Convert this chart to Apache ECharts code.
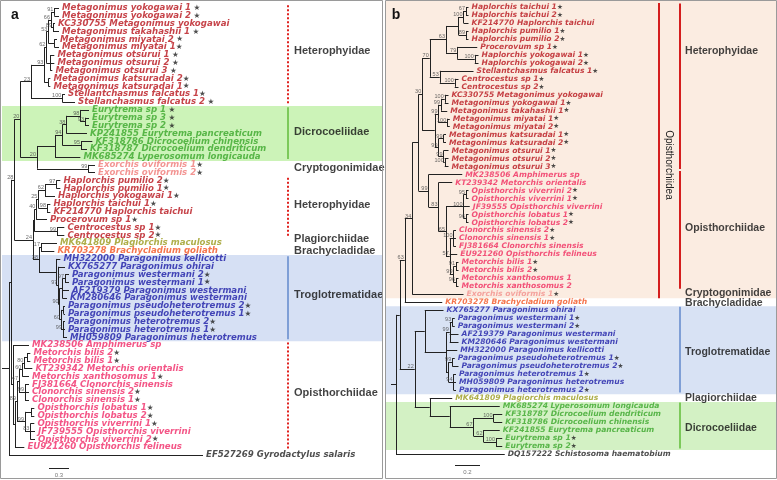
<!DOCTYPE html>
<html>
<head>
<meta charset="utf-8">
<script src="https://cdn.jsdelivr.net/npm/echarts@6/dist/echarts.min.js"></script>
<style>
html,body{margin:0;padding:0;background:#ffffff;}
#chart{width:777px;height:480px;}
</style>
</head>
<body>
<div id="chart"></div>
<script>
// ================= DATA =================
// ---- Panel a ----
const taxaA = [
'Metagonimus yokogawai 1 ★','Metagonimus yokogawai 2 ★','KC330755 Metagonimus yokogawai','Metagonimus takahashii 1 ★',
'Metagonimus miyatai 2 ★','Metagonimus miyatai 1★','Metagonimus otsurui 1 ★','Metagonimus otsurui 2 ★','Metagonimus otsurui 3 ★',
'Metagonimus katsuradai 2★','Metagonimus katsuradai 1★','Stellantchasmus falcatus 1★','Stellanchasmus falcatus 2 ★',
'Eurytrema sp 1 ★','Eurytrema sp 3 ★','Eurytrema sp 2 ★','KP241855 Eurytrema pancreaticum','KF318786 Dicrocoelium chinensis',
'KF318787 Dicrocoelium dendriticum','MK685274 Lyperosomum longicauda',
'Exorchis oviformis 1★','Exorchis oviformis 2★',
'Haplorchis pumilio 2★','Haplorchis pumilio 1★','Haplorchis yokogawai 1★','Haplorchis taichui 1★','KF214770 Haplorchis taichui',
'Procerovum sp 1★','Centrocestus sp 1★','Centrocestus sp 2★',
'MK641809 Plagiorchis maculosus','KR703278 Brachycladium goliath',
'MH322000 Paragonimus kellicotti','KX765277 Paragonimus ohirai','Paragonimus westermani 2★','Paragonimus westermani 1★',
'AF219379 Paragonimus westermani','KM280646 Paragonimus westermani','Paragonimus pseudoheterotremus 2★','Paragonimus pseudoheterotremus 1★',
'Paragonimus heterotremus 2★','Paragonimus heterotremus 1★','MH059809 Paragonimus heterotremus',
'MK238506 Amphimerus sp','Metorchis bilis 2★','Metorchis bilis 1★','KT239342 Metorchis orientalis','Metorchis xanthosomus 1★',
'FJ381664 Clonorchis sinensis','Clonorchis sinensis 2★','Clonorchis sinensis 1★','Opisthorchis lobatus 1★','Opisthorchis lobatus 2★',
'Opisthorchis viverrini 1★','JF739555 Opisthorchis viverrini','Opisthorchis viverrini 2★','EU921260 Opisthorchis felineus',
'EF527269 Gyrodactylus salaris'];
const groupA = 'HHHHHHHHHHHHH' + 'DDDDDDD' + 'CC' + 'HHHHHHHH' + 'P' + 'B' + 'TTTTTTTTTTT' + 'OOOOOOOOOOOOOO' + 'X';
// tip heights from root (substitutions / site)
const tipsA = [
0.75,0.75,0.69,0.75,0.72,0.75,0.68,0.68,0.65,0.62,0.62,0.84,0.99,
1.20,1.20,1.20,1.17,1.25,1.17,1.07,
1.29,1.29,
0.77,0.77,0.69,0.62,0.62,0.57,0.83,0.83,
0.72,0.68,
0.77,0.84,0.90,0.90,0.90,0.87,0.84,0.84,0.84,0.84,0.87,
0.30,0.32,0.32,0.35,0.30,0.30,0.30,0.30,0.38,0.38,0.38,0.39,0.39,0.23,
2.91];
// internal nodes: [height, bootstrap, ...children]; integers = taxon index
const treeA = [0, '',
  [0.03, '',
    [0.08, '28',
      [0.17, '20',
        [0.33, '23',
          [0.53, '93',
            [0.56, '62',
              [0.59, '53',
                [0.63, '66', [0.68, '91', 0, 1], [0.66, '89', 2, 3]],
                [0.68, '', 4, 5]],
              [0.62, '', 6, 7, 8]],
            [0.59, '', 9, 10]],
          [0.80, '100', 11, 12]],
        [0.42, '20',
          [0.69, '',
            [0.80, '94',
              [0.86, '38', [1.07, '98', 13, [1.14, '93', 14, 15]], 16],
              [1.08, '95', 17, 18]],
            19],
          [1.19, '99', 20, 21]]],
      [0.36, '24',
        [0.38, '',
          [0.41, '40', [0.44, '25', [0.54, '62', [0.71, '97', 22, 23], 24], [0.57, '98', 25, 26]], 27],
          [0.72, '99', 28, 29]],
        [0.45, '38',
          [0.48, '17', 30, 31],
          [0.71, '', 32,
            [0.74, '97', 33,
              [0.76, '90',
                [0.80, '', [0.84, '97', 34, 35], 36, 37],
                [0.78, '60', [0.82, '', 38, 39], [0.81, '99', 40, 41, 42]]]]]]]],
    [0.06, '', 43,
      [0.09, '',
        [0.12, '89',
          [0.15, '47',
            [0.20, '60', [0.23, '80', [0.27, '', 44, 45], 46], 47],
            [0.24, '99', 48, 49, 50]],
          [0.24, '99', [0.33, '', 51, 52], [0.32, '83', 53, 54, 55]]],
        56]]],
  57];
const familiesA = ['Heterophyidae','Dicrocoeliidae','Cryptogonimidae','Heterophyidae','Plagiorchiidae','Brachycladidae','Troglotrematidae','Opisthorchiidae'];
const familyRowsA = [[0,12],[13,19],[20,21],[22,29],[30,30],[31,31],[32,42],[43,56]];
const scaleA = 0.3;

// ---- Panel b ----
const taxaB = [
'Haplorchis taichui 1★','Haplorchis taichui 2★','KF214770 Haplorchis taichui','Haplorchis pumilio 1★','Haplorchis pumilio 2★',
'Procerovum sp 1★','Haplorchis yokogawai 1★','Haplorchis yokogawai 2★','Stellantchasmus falcatus 1★','Centrocestus sp 1★',
'Centrocestus sp 2★','KC330755 Metagonimus yokogawai','Metagonimus yokogawai 1★','Metagonimus takahashii 1★','Metagonimus miyatai 1★',
'Metagonimus miyatai 2★','Metagonimus katsuradai 1★','Metagonimus katsuradai 2★','Metagonimus otsurui 1★','Metagonimus otsurui 2★',
'Metagonimus otsurui 3★',
'MK238506 Amphimerus sp','KT239342 Metorchis orientalis','Opisthorchis viverrini 2★','Opisthorchis viverrini 1★','JF39555 Opisthorchis viverrini',
'Opisthorchis lobatus 1★','Opisthorchis lobatus 2★','Clonorchis sinensis 2★','Clonorchis sinensis 1★','FJ381664 Clonorchis sinensis',
'EU921260 Opisthorchis felineus','Metorchis bilis 1★','Metorchis bilis 2★','Metorchis xanthosomus 1','Metorchis xanthosomus 2',
'Exorchis oviformis 1★','KR703278 Brachycladium goliath',
'KX765277 Paragonimus ohirai','Paragonimus westermani 1★','Paragonimus westermani 2★','AF219379 Paragonimus westermani',
'KM280646 Paragonimus westermani','MH322000 Paragonimus kellicotti','Paragonimus pseudoheterotremus 1★','Paragonimus pseudoheterotremus 2★',
'Paragonimus heterotremus 1★','MH059809 Paragonimus heterotremus','Paragonimus heterotremus 2★',
'MK641809 Plagiorchis maculosus','MK685274 Lyperosomum longicauda','KF318787 Dicrocoelium dendriticum','KF318786 Dicrocoelium chinensis',
'KF241855 Eurytrema pancreaticum','Eurytrema sp 1★','Eurytrema sp 2★','DQ157222 Schistosoma haematobium'];
const groupB = 'HHHHHHHHHHHHHHHHHHHHH' + 'OOOOOOOOOOOOOOO' + 'C' + 'B' + 'TTTTTTTTTTT' + 'P' + 'DDDDDD' + 'X';
const tipsB = [
0.58,0.58,0.58,0.58,0.58,0.65,0.66,0.66,0.62,0.50,0.50,0.42,0.42,0.41,0.43,0.43,0.40,0.40,0.42,0.42,0.42,
0.53,0.45,0.58,0.58,0.59,0.58,0.58,0.48,0.48,0.48,0.49,0.50,0.50,0.50,0.50,
0.54,0.37,
0.38,0.47,0.47,0.50,0.50,0.49,0.47,0.50,0.48,0.48,0.48,
0.45,0.83,0.85,0.85,0.83,0.85,0.85,0.87];
const treeB = [0, '',
  [0.03, '',
    [0.07, '63',
      [0.13, '34',
        [0.18, '',
          [0.21, '30',
            [0.27, '70',
              [0.40, '63',
                [0.50, '', [0.54, '100', [0.56, '67', 0, 1], 2], [0.56, '89', 3, 4]],
                [0.49, '79', 5, [0.63, '100', 6, 7]]],
              [0.35, '53', 8, [0.47, '100', 9, 10]]],
            [0.31, '',
              [0.34, '99', [0.36, '99', [0.39, '100', 11, 12], 13], [0.41, '100', 14, 15]],
              [0.34, '99', [0.38, '99', 16, 17], [0.38, '99', 18, [0.39, '100', 19, 20]]]]],
          [0.26, '99', 21,
            [0.34, '83', 22,
              [0.40, '65',
                [0.54, '100', [0.56, '95', 23, 24], 25, [0.56, '96', 26, 27]],
                [0.43, '57', [0.46, '100', 28, 29, 30], 31, [0.46, '99', [0.48, '91', 32, 33], [0.48, '96', 34, 35]]]]]]],
        36],
      37],
    [0.15, '22',
      [0.23, '', 38, [0.40, '', [0.43, '99', [0.45, '93', 39, 40], 41, 42], 43, [0.42, '', [0.45, '99', 44, 45], [0.46, '94', 46, 47, 48]]]],
      [0.27, '', 49, [0.43, '', 50, [0.62, '67', [0.78, '100', 51, 52], [0.70, '62', 53, [0.80, '100', 54, 55]]]]]]],
  56];
const familiesB = ['Heterophyidae','Opisthorchiidae','Cryptogonimidae','Brachycladidae','Troglotrematidae','Plagiorchiidae','Dicrocoeliidae'];
const familyRowsB = [[0,20],[21,35],[36,36],[37,37],[38,48],[49,49],[50,55]];
const superfamilyB = 'Opisthorchiidea';
const superRowsB = [0, 36];
const scaleB = 0.2;

// ================= LAYOUT / STYLE =================
const FONT = '"Liberation Sans", Arial, sans-serif';
const TAXFONT = '"DejaVu Sans", sans-serif';
const GA = {left: 9, top: 8, width: 373, height: 447, xmax: 5.595, ymax: 57};
const GB = {left: 396, top: 7, width: 380, height: 447, xmax: 3.04, ymax: 56};
const hx = (G, px) => (px - G.left) * G.xmax / G.width;
const ry = (G, py) => (py - G.top) * G.ymax / G.height;

const colA = {H:'#b8141c', D:'#3aa62a', C:'#f07a78', P:'#9a9a1c', B:'#f2521f', T:'#1c1ca6', O:'#f02a68', X:'#222222'};
const colB = {H:'#b8141c', D:'#3aa62a', C:'#f3908c', P:'#9a9a1c', B:'#f2521f', T:'#1c1ca6', O:'#f02a5e', X:'#222222'};

function makeRich(col, size) {
  const r = {};
  Object.keys(col).forEach(k => {
    r[k] = {color: col[k], fontSize: size, fontWeight: 'bold', fontStyle: 'italic', fontFamily: TAXFONT};
  });
  r.s = {color: '#222', fontSize: size - 1, fontFamily: TAXFONT};
  return r;
}
function fmtTaxon(name, grp) {
  const star = /★$/.test(name);
  const base = name.replace(/\s*★$/, '');
  const gap = /\s★$/.test(name) ? ' ' : '';
  return '{' + grp + '|' + base + '}' + (star ? '{s|' + gap + '★}' : '');
}

function buildTree(tree, tips, stubStart) {
  const segs = [], boots = [];
  function walk(n) {
    if (typeof n === 'number') return {h: tips[n], y: n};
    const h = n[0], sup = n[1];
    const kids = n.slice(2).map(walk);
    const y = (kids[0].y + kids[kids.length - 1].y) / 2;
    kids.forEach(k => segs.push([[h, k.y], [k.h, k.y]]));
    segs.push([[h, kids[0].y], [h, kids[kids.length - 1].y]]);
    if (sup) boots.push([h, y, sup]);
    return {h, y};
  }
  const r = walk(tree);
  segs.push([[stubStart, r.y], [r.h, r.y]]);
  return {segs, boots};
}
const ta = buildTree(treeA, tipsA, hx(GA, 2));
const tb = buildTree(treeB, tipsB, hx(GB, 391));

// scale bars
const sbA = {x0: hx(GA, 49), row: ry(GA, 468), lrow: ry(GA, 475)};
const sbB = {x0: hx(GB, 455), row: ry(GB, 465), lrow: ry(GB, 472)};
ta.segs.push([[sbA.x0, sbA.row], [sbA.x0 + scaleA, sbA.row]]);
tb.segs.push([[sbB.x0, sbB.row], [sbB.x0 + scaleB, sbB.row]]);

// family markers
const RED = '#e0221f', GREEN = '#7cc95a', BLUE = '#7f9fd6';
const famStyleA = ['dot','green',null,'dot',null,null,'blue','dot'];
const famLabelRowA = [5.5, 15.8, 20.4, 25.1, 29.5, 31.0, 36.6, 49.1];
const famStyleB = ['red','red',null,null,'blue',null,'green'];
const famLabelRowB = [5.5, 27.7, 35.8, 37.1, 43.2, 49.0, 52.7];
function lineStyleFor(s) {
  if (s === 'dot') return {color: RED, width: 2, type: [2, 2]};
  if (s === 'red') return {color: '#d41e1e', width: 2, type: 'solid'};
  if (s === 'green') return {color: GREEN, width: 2, type: 'solid'};
  return {color: BLUE, width: 2, type: 'solid'};
}
const famLinesA = [], famLinesB = [];
familyRowsA.forEach((r, i) => {
  if (!famStyleA[i]) return;
  const x = hx(GA, 288);
  famLinesA.push({coords: [[x, r[0] - 0.35], [x, r[1] + 0.25]], lineStyle: lineStyleFor(famStyleA[i])});
});
familyRowsB.forEach((r, i) => {
  if (!famStyleB[i]) return;
  const x = hx(GB, 680);
  famLinesB.push({coords: [[x, r[0] - 0.45], [x, r[1] + 0.3]], lineStyle: lineStyleFor(famStyleB[i])});
});
famLinesB.push({coords: [[hx(GB, 659), superRowsB[0] - 0.5], [hx(GB, 659), superRowsB[1] + 0.5]], lineStyle: {color: '#d41e1e', width: 2}});

// background bands
const bandsA = [
  {r0: familyRowsA[1][0] - 0.5, r1: familyRowsA[1][1] + 0.5, x0: 2, x1: 382, color: '#ccf3b8'},
  {r0: familyRowsA[6][0] - 0.5, r1: familyRowsA[6][1] + 0.5, x0: 2, x1: 382, color: '#d6e0f4'}
];
const bandsB = [
  {r0: superRowsB[0] - 0.75, r1: superRowsB[1] + 0.5, x0: 386, x1: 776, color: '#fbece1'},
  {r0: familyRowsB[4][0] - 0.5, r1: familyRowsB[4][1] + 0.5, x0: 386, x1: 776, color: '#d8e2f4'},
  {r0: familyRowsB[6][0] - 0.5, r1: familyRowsB[6][1] + 0.5, x0: 386, x1: 776, color: '#d3f1c4'}
];
function bandSeries(bands, idx) {
  return {
    type: 'custom', xAxisIndex: idx, yAxisIndex: idx, silent: true, z: 1, animation: false,
    data: bands.map(b => [0, b.r0]),
    renderItem: function (params, api) {
      const b = bands[params.dataIndex];
      const y0 = api.coord([0, b.r0])[1], y1 = api.coord([0, b.r1])[1];
      return {type: 'rect', shape: {x: b.x0, y: y0, width: b.x1 - b.x0, height: y1 - y0}, style: {fill: b.color}};
    }
  };
}
function treeSeries(t, idx) {
  return {type: 'lines', coordinateSystem: 'cartesian2d', xAxisIndex: idx, yAxisIndex: idx, polyline: false,
    clip: false, silent: true, z: 3, animation: false,
    lineStyle: {color: '#222', width: 1, opacity: 1, curveness: 0},
    data: t.segs.map(s => ({coords: s}))};
}
function famLineSeries(lines, idx) {
  return {type: 'lines', coordinateSystem: 'cartesian2d', xAxisIndex: idx, yAxisIndex: idx, polyline: false,
    clip: false, silent: true, z: 3, animation: false, lineStyle: {opacity: 1}, data: lines};
}
function taxaSeries(taxa, grp, tips, idx, col, size) {
  return {type: 'scatter', xAxisIndex: idx, yAxisIndex: idx, clip: false, silent: true, z: 5, animation: false,
    symbol: 'circle', symbolSize: 0.1, itemStyle: {color: 'rgba(0,0,0,0)'},
    data: taxa.map((t, i) => ({value: [tips[i], i], name: t, grp: grp[i]})),
    label: {show: true, position: 'right', distance: 3, formatter: p => fmtTaxon(p.data.name, p.data.grp), rich: makeRich(col, size)}};
}
function bootSeries(t, idx) {
  return {type: 'scatter', xAxisIndex: idx, yAxisIndex: idx, clip: false, silent: true, z: 5, animation: false,
    symbol: 'circle', symbolSize: 0.1, itemStyle: {color: 'rgba(0,0,0,0)'},
    data: t.boots.map(b => ({value: [b[0], b[1]], sup: b[2]})),
    label: {show: true, position: 'left', distance: 1, offset: [0, -2.5], formatter: p => p.data.sup,
      fontSize: 5.5, color: '#444', fontFamily: FONT}};
}
function textSeries(items, idx, style, pos) {
  return {type: 'scatter', xAxisIndex: idx, yAxisIndex: idx, clip: false, silent: true, z: 5, animation: false,
    symbol: 'circle', symbolSize: 0.1, itemStyle: {color: 'rgba(0,0,0,0)'},
    data: items.map(it => ({value: [it[0], it[1]], txt: it[2]})),
    label: Object.assign({show: true, position: pos, distance: 0, formatter: p => p.data.txt, fontFamily: FONT}, style)};
}

const famTextA = familiesA.map((f, i) => [hx(GA, 294), famLabelRowA[i], f]);
const famTextB = familiesB.map((f, i) => [hx(GB, 685), famLabelRowB[i], f]);

const option = {
  animation: false,
  backgroundColor: '#ffffff',
  grid: [
    {left: GA.left, top: GA.top, width: GA.width, height: GA.height, show: false},
    {left: GB.left, top: GB.top, width: GB.width, height: GB.height, show: false}
  ],
  xAxis: [
    {type: 'value', gridIndex: 0, min: 0, max: GA.xmax, show: false},
    {type: 'value', gridIndex: 1, min: 0, max: GB.xmax, show: false}
  ],
  yAxis: [
    {type: 'value', gridIndex: 0, min: 0, max: GA.ymax, inverse: true, show: false},
    {type: 'value', gridIndex: 1, min: 0, max: GB.ymax, inverse: true, show: false}
  ],
  graphic: [
    {type: 'rect', shape: {x: 0.5, y: 0.5, width: 382, height: 478}, style: {fill: 'none', stroke: '#9a9a9a', lineWidth: 1}, z: 10, silent: true},
    {type: 'rect', shape: {x: 385.5, y: 0.5, width: 391, height: 478}, style: {fill: 'none', stroke: '#9a9a9a', lineWidth: 1}, z: 10, silent: true},
    {type: 'text', x: 15, y: 15, style: {text: 'a', font: 'bold 14px ' + FONT, fill: '#111', align: 'center', verticalAlign: 'middle'}, z: 10, silent: true},
    {type: 'text', x: 396, y: 15, style: {text: 'b', font: 'bold 14px ' + FONT, fill: '#111', align: 'center', verticalAlign: 'middle'}, z: 10, silent: true},
    {type: 'text', x: 669, y: 165, rotation: -Math.PI / 2, style: {text: superfamilyB, font: '10px ' + FONT, fill: '#222', align: 'center', verticalAlign: 'middle'}, z: 10, silent: true}
  ],
  series: [
    bandSeries(bandsA, 0),
    bandSeries(bandsB, 1),
    treeSeries(ta, 0),
    treeSeries(tb, 1),
    famLineSeries(famLinesA, 0),
    famLineSeries(famLinesB, 1),
    taxaSeries(taxaA, groupA, tipsA, 0, colA, 8.6),
    taxaSeries(taxaB, groupB, tipsB, 1, colB, 7.6),
    bootSeries(ta, 0),
    bootSeries(tb, 1),
    textSeries(famTextA, 0, {fontSize: 11, fontWeight: 'bold', color: '#111'}, 'right'),
    textSeries(famTextB, 1, {fontSize: 10.5, fontWeight: 'bold', color: '#111'}, 'right'),
    textSeries([[sbA.x0 + scaleA / 2, sbA.lrow, String(scaleA)]], 0, {fontSize: 6, color: '#555'}, 'inside'),
    textSeries([[sbB.x0 + scaleB / 2, sbB.lrow, String(scaleB)]], 1, {fontSize: 6, color: '#555'}, 'inside')
  ]
};
const chart = echarts.init(document.getElementById('chart'), null, {renderer: 'canvas', width: 777, height: 480});
chart.setOption(option);
</script>
</body>
</html>
